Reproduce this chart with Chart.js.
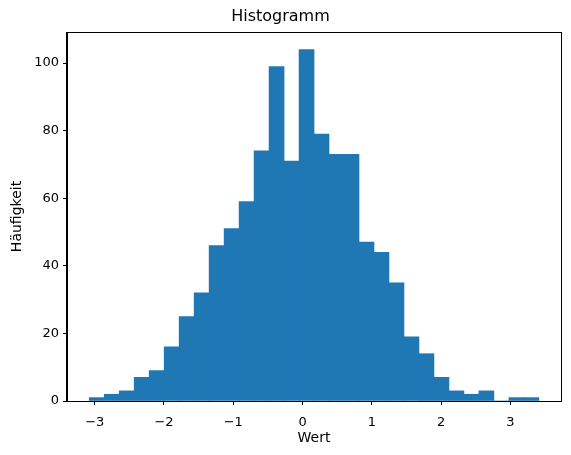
<!DOCTYPE html>
<html>
<head>
<meta charset="utf-8">
<script src="https://cdn.jsdelivr.net/npm/chart.js@4"></script>
<style>
  html, body { margin: 0; padding: 0; background: #fff; }
  #wrap { width: 571px; height: 455px; }
</style>
</head>
<body>
<div id="wrap"><canvas id="grafico" width="571" height="455"></canvas></div>
<script>
// Histogramm: 30 Klassen, Zählwerte
const binStart = -3.079;
const binWidth = 0.2163;
const counts = [1, 2, 3, 7, 9, 16, 25, 32, 46, 51,
                59, 74, 99, 71, 104, 79, 73, 73, 47, 44,
                35, 19, 14, 7, 3, 2, 3, 0, 1, 1];
const xTicks = [-3, -2, -1, 0, 1, 2, 3];
const yTicks = [0, 20, 40, 60, 80, 100];

const xRange = [-3.40, 3.73];
const yRange = [0, 109.2];

const punkte = counts.map((c, i) => ({ x: binStart + binWidth * (i + 0.5), y: c }));

Chart.defaults.font.family = "'DejaVu Sans', sans-serif";
Chart.defaults.font.size = 13;
Chart.defaults.color = "#000";

// Rahmen um die Zeichenfläche (wie bei matplotlib)
const rahmen = {
  id: "rahmen",
  afterDatasetsDraw(chart) {
    const { ctx, chartArea: a } = chart;
    ctx.save();
    ctx.strokeStyle = "#000";
    ctx.lineWidth = 1;
    ctx.strokeRect(Math.round(a.left) - 0.5, Math.round(a.top) + 0.5,
      Math.round(a.right - a.left) + 1, Math.round(a.bottom - a.top));
    ctx.restore();
  }
};

const fmt = v => String(v).replace("-", "\u2212");

new Chart(document.getElementById("grafico"), {
  type: "bar",
  data: {
    datasets: [{
      data: punkte,
      backgroundColor: "#1f77b4",
      borderWidth: 0,
      barPercentage: 1,
      categoryPercentage: 1
    }]
  },
  options: {
    responsive: false,
    animation: false,
    layout: { padding: { left: 0, right: 10, top: 0, bottom: 8 } },
    plugins: {
      legend: { display: false },
      tooltip: { enabled: false },
      title: {
        display: true,
        text: "Histogramm",
        font: { size: 16, weight: "normal" },
        padding: { top: 7, bottom: 5.8 }
      }
    },
    scales: {
      x: {
        type: "linear",
        offset: false,
        min: xRange[0],
        max: xRange[1],
        afterFit: s => { s.height = 46; },
        afterBuildTicks: s => { s.ticks = xTicks.map(v => ({ value: v })); },
        ticks: { callback: fmt, padding: 10, maxRotation: 0 },
        grid: { offset: false, drawOnChartArea: false, drawTicks: true, tickLength: 4, color: "#000" },
        border: { display: true, color: "#000" },
        title: { display: true, text: "Wert", font: { size: 14 }, padding: { top: 2, bottom: 0 } }
      },
      y: {
        min: yRange[0],
        max: yRange[1],
        afterFit: s => { s.width = 67; },
        afterBuildTicks: s => { s.ticks = yTicks.map(v => ({ value: v })); },
        ticks: { padding: 4 },
        grid: { drawOnChartArea: false, drawTicks: true, tickLength: 4, color: "#000" },
        border: { display: true, color: "#000" },
        title: { display: true, text: "Häufigkeit", font: { size: 14 }, padding: { top: 9, bottom: 0 } }
      }
    }
  },
  plugins: [rahmen]
});
</script>
</body>
</html>
